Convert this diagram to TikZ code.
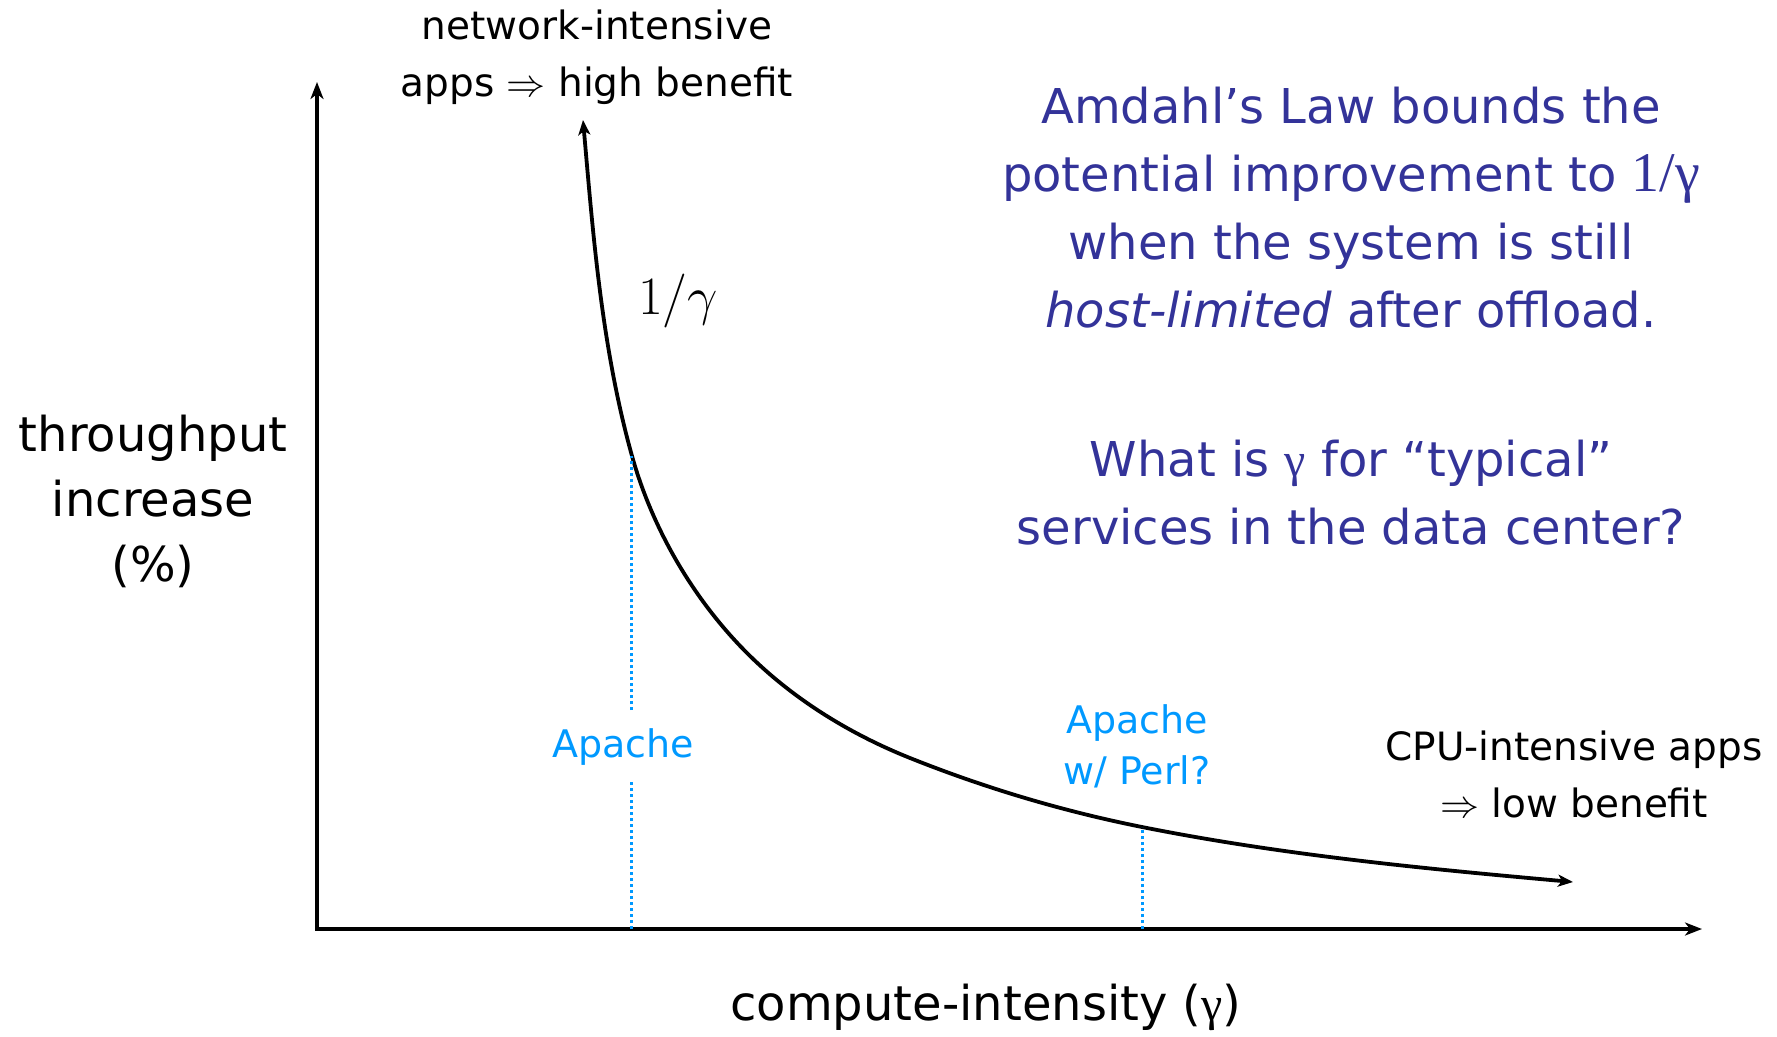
\RequirePackage{fix-cm}
\documentclass[tikz,border=0pt]{standalone}
\usepackage{fontspec}
\setmainfont{DejaVu Sans}
\newfontfamily\greekserif{Liberation Serif}
\usetikzlibrary{arrows.meta}
\definecolor{notenavy}{RGB}{51,51,153}
\definecolor{appblue}{RGB}{0,153,255}

\begin{document}
\begin{tikzpicture}[x=1pt,y=-1pt,
  axisline/.style={line width=4pt,line join=miter,
    {Stealth[length=17pt,width=13pt,inset=5pt]}-{Stealth[length=17pt,width=13pt,inset=5pt]}},
  curveline/.style={line width=3.8pt,
    {Stealth[length=15pt,width=12pt,inset=4pt]}-{Stealth[length=15pt,width=12pt,inset=4pt]}},
  guide/.style={appblue,line width=3pt,dash pattern=on 3pt off 3pt},
  lbl/.style={align=center,inner sep=0pt,font=\fontsize{39}{57}\selectfont},
  axislbl/.style={align=center,inner sep=0pt,font=\fontsize{48}{65}\selectfont},
  applbl/.style={align=center,inner sep=0pt,text=appblue,font=\fontsize{38}{51}\selectfont},
  note/.style={align=center,inner sep=0pt,text=notenavy,font=\fontsize{48}{68}\selectfont}]

\useasboundingbox (0,0) rectangle (1777,1036);

% axes
\coordinate (origin) at (317,929);
\coordinate (ytip) at (317,82);
\coordinate (xtip) at (1702,929);
\draw[axisline] (ytip) -- (origin) -- (xtip);

% the 1/gamma curve, built from Hermite-style cubic pieces
\coordinate (hightip) at (583,120);
\coordinate (apachehit) at (632,456);
\coordinate (knee) at (747,653);
\coordinate (bend) at (910,758);
\coordinate (perlhit) at (1142,827);
\coordinate (lowtip) at (1573,882);
\draw[curveline] (hightip)
  .. controls (593,233) and (601.5,347) .. (apachehit)
  .. controls (652.5,529) and (693.3,599.3) .. (knee)
  .. controls (793,699) and (849.7,733.9) .. (bend)
  .. controls (985,788) and (1062.6,811.1) .. (perlhit)
  .. controls (1284,855.4) and (1428.6,869) .. (lowtip);

% axis labels
\node[axislbl] (ylabel) at (153,501) {throughput\\increase\\(\%)};
\node[axislbl] (xlabel) at (986,1007) {compute-intensity ({\greekserif γ})};
\node[inner sep=0pt,font=\fontsize{54}{60}\selectfont] (recip) at (678,301) {$1/\gamma$};

% end-of-curve notes
\node[lbl] (netlabel) at (597,57) {network-intensive\\apps $\Rightarrow$ high benefit};
\node[lbl] (cpulabel) at (1574,774) {CPU-intensive apps\\$\Rightarrow$ low benefit};

% sample applications
\node[applbl] (apache) at (623,747) {Apache};
\node[applbl] (perl) at (1137,746) {Apache\\w/ Perl?};
\coordinate (apachefoot) at (631,929);
\coordinate (apachelow) at (631,782);
\coordinate (apachehigh) at (631,710);
\coordinate (perlfoot) at (1142,929);
\draw[guide] (apachefoot) -- (apachelow);
\draw[guide] (apachehigh) -- (apachehit -| apachehigh);
\draw[guide] (perlfoot) -- (perlhit);

% commentary
\node[note] (amdahl) at (1351,208) {Amdahl’s Law bounds the\\potential improvement to {\fontsize{56}{68}\greekserif\selectfont 1/γ}\\when the system is still\\\textit{host-limited} after offload.};
\node[note] (question) at (1351,493) {What is {\greekserif γ} for “typical”\\services in the data center?};
\end{tikzpicture}
\end{document}
